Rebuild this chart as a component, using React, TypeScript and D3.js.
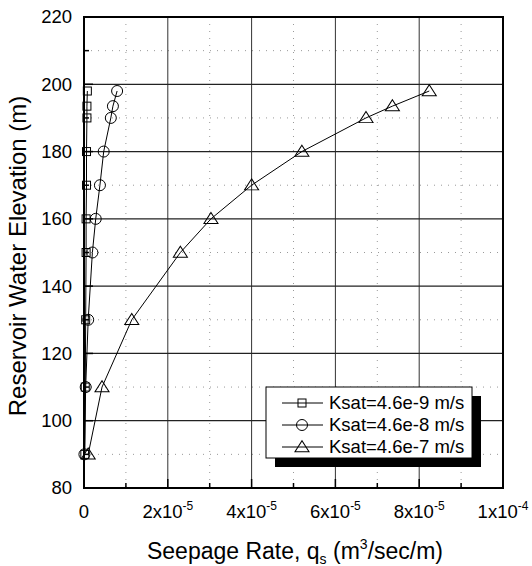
import * as d3 from 'd3';
import React, { useEffect, useRef } from 'react';

// reservoir elevations (m) at which seepage was computed
const elevations = [90, 110, 130, 150, 160, 170, 180, 190, 193.5, 198];
// seepage rate, units of 1e-5 m3/sec/m
const seepK9 = [0.02, 0.03, 0.04, 0.05, 0.05, 0.06, 0.06, 0.07, 0.07, 0.08];
const seepK8 = [0.01, 0.04, 0.1, 0.2, 0.28, 0.38, 0.47, 0.64, 0.69, 0.79];
const seepK7 = [0.1, 0.43, 1.14, 2.3, 3.03, 4.0, 5.2, 6.73, 7.36, 8.24];

const seriesNames = ['Ksat=4.6e-9 m/s', 'Ksat=4.6e-8 m/s', 'Ksat=4.6e-7 m/s'];
const seriesMarkers = ['square', 'circle', 'triangle'];

const xTicks = [0, 2, 4, 6, 8, 10];
const xTickMantissa = ['0', '2x10', '4x10', '6x10', '8x10', '1x10'];
const xTickExponent = ['', '-5', '-5', '-5', '-5', '-4'];
const yTicks = [80, 100, 120, 140, 160, 180, 200, 220];

const FONT = '"Liberation Sans", Arial, sans-serif';

const App = () => {
    const svgRef = useRef(null);

    useEffect(() => {
        const svg = d3.select(svgRef.current);
        svg.selectAll('*').remove();

        const left = 84, right = 503, top = 17, bottom = 488;
        const x = d3.scaleLinear().domain([0, 10]).range([left, right]);
        const y = d3.scaleLinear().domain([80, 220]).range([bottom, top]);

        const g = svg.append('g');

        // minor dotted grid
        const minorX = d3.range(1, 10, 2);
        const minorY = d3.range(90, 220, 20);
        g.selectAll('.mx').data(minorX).join('line')
            .attr('x1', d => x(d)).attr('x2', d => x(d))
            .attr('y1', top).attr('y2', bottom)
            .attr('stroke', '#999').attr('stroke-width', 1)
            .attr('stroke-dasharray', '1,6');
        g.selectAll('.my').data(minorY).join('line')
            .attr('y1', d => y(d)).attr('y2', d => y(d))
            .attr('x1', left).attr('x2', right)
            .attr('stroke', '#999').attr('stroke-width', 1)
            .attr('stroke-dasharray', '1,6');

        // major grid
        g.selectAll('.gx').data(xTicks.slice(1, -1)).join('line')
            .attr('x1', d => x(d)).attr('x2', d => x(d))
            .attr('y1', top).attr('y2', bottom)
            .attr('stroke', '#333').attr('stroke-width', 1);
        g.selectAll('.gy').data(yTicks.slice(1, -1)).join('line')
            .attr('y1', d => y(d)).attr('y2', d => y(d))
            .attr('x1', left).attr('x2', right)
            .attr('stroke', '#222').attr('stroke-width', 1.2);

        // inward ticks
        const ticks = svg.append('g').attr('stroke', '#000').attr('stroke-width', 1.5);
        d3.range(0, 11, 1).forEach(v => {
            const len = v % 2 === 0 ? 9 : 5;
            ticks.append('line').attr('x1', x(v)).attr('x2', x(v))
                .attr('y1', bottom).attr('y2', bottom - len);
        });
        d3.range(80, 221, 10).forEach(v => {
            const len = v % 20 === 0 ? 9 : 5;
            ticks.append('line').attr('y1', y(v)).attr('y2', y(v))
                .attr('x1', left).attr('x2', left + len);
        });

        // frame
        svg.append('rect')
            .attr('x', left).attr('y', top)
            .attr('width', right - left).attr('height', bottom - top)
            .attr('fill', 'none').attr('stroke', '#000').attr('stroke-width', 2);

        // series
        const allSeries = [seepK9, seepK8, seepK7];
        const line = d3.line().x(d => x(d[0])).y(d => y(d[1]));
        const tri = d3.symbol().type(d3.symbolTriangle).size(78);

        const drawMarker = (sel, type, cx, cy) => {
            if (type === 'square') {
                sel.append('rect').attr('x', cx - 4).attr('y', cy - 4)
                    .attr('width', 8).attr('height', 8)
                    .attr('fill', 'none').attr('stroke', '#000').attr('stroke-width', 1);
            } else if (type === 'circle') {
                sel.append('circle').attr('cx', cx).attr('cy', cy).attr('r', 5.5)
                    .attr('fill', 'none').attr('stroke', '#000').attr('stroke-width', 1);
            } else {
                sel.append('path').attr('d', tri)
                    .attr('transform', `translate(${cx},${cy + 1}) scale(1.05,0.95)`)
                    .attr('fill', 'none').attr('stroke', '#000').attr('stroke-width', 1);
            }
        };

        allSeries.forEach((vals, i) => {
            const pts = vals.map((v, j) => [v, elevations[j]]);
            svg.append('path').attr('d', line(pts))
                .attr('fill', 'none').attr('stroke', '#000').attr('stroke-width', 1);
            pts.forEach(p => drawMarker(svg, seriesMarkers[i], x(p[0]), y(p[1])));
        });

        // tick labels
        yTicks.forEach(v => {
            svg.append('text').attr('x', left - 12).attr('y', y(v))
                .attr('dy', '0.35em').attr('text-anchor', 'end')
                .style('font-family', FONT).style('font-size', '18.5px')
                .text(v);
        });
        xTicks.forEach((v, i) => {
            const t = svg.append('text').attr('x', x(v)).attr('y', 518)
                .attr('text-anchor', 'middle')
                .style('font-family', FONT).style('font-size', '18.5px');
            t.append('tspan').text(xTickMantissa[i]);
            if (xTickExponent[i]) {
                t.append('tspan').attr('dy', -8).style('font-size', '12px').text(xTickExponent[i]);
            }
        });

        // axis titles
        const xt = svg.append('text').attr('x', 295).attr('y', 559)
            .attr('text-anchor', 'middle')
            .style('font-family', FONT).style('font-size', '23px');
        xt.append('tspan').text('Seepage Rate, q');
        xt.append('tspan').attr('dy', 5).style('font-size', '14px').text('s');
        xt.append('tspan').attr('dy', -5).text(' (m');
        xt.append('tspan').attr('dy', -10).style('font-size', '14px').text('3');
        xt.append('tspan').attr('dy', 10).text('/sec/m)');

        svg.append('text')
            .attr('transform', `translate(26,256) rotate(-90)`)
            .attr('text-anchor', 'middle')
            .style('font-family', FONT).style('font-size', '24px')
            .text('Reservoir Water Elevation (m)');

        // legend with drop shadow
        const lx = 266, ly = 387, lw = 206, lh = 71;
        svg.append('rect').attr('x', lx + 9).attr('y', ly + 9)
            .attr('width', lw).attr('height', lh).attr('fill', '#000');
        svg.append('rect').attr('x', lx).attr('y', ly)
            .attr('width', lw).attr('height', lh)
            .attr('fill', '#fff').attr('stroke', '#000').attr('stroke-width', 1);
        seriesNames.forEach((name, i) => {
            const cy = 403 + i * 22;
            svg.append('line').attr('x1', 282).attr('x2', 323)
                .attr('y1', cy).attr('y2', cy)
                .attr('stroke', '#000').attr('stroke-width', 1);
            drawMarker(svg, seriesMarkers[i], 302, cy);
            svg.append('text').attr('x', 329).attr('y', cy).attr('dy', '0.35em')
                .style('font-family', FONT).style('font-size', '18.5px')
                .text(name);
        });
    }, []);

    return (
        <svg ref={svgRef} width={532} height={566}
            style={{ position: 'absolute', left: 0, top: 0, background: '#fff' }}></svg>
    );
};

export default App;
